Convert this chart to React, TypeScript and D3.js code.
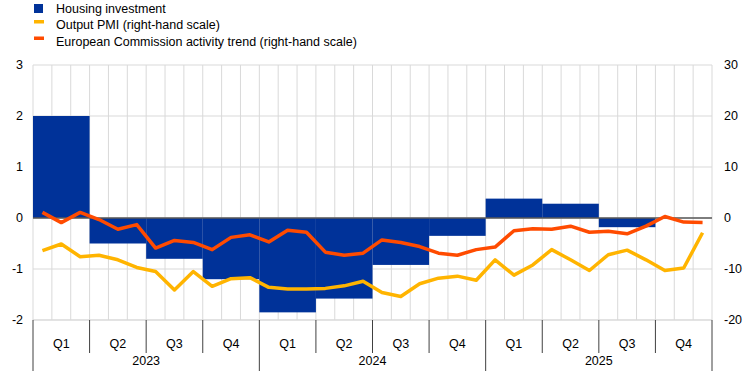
import * as d3 from "d3";

const quarterLabels = ["Q1", "Q2", "Q3", "Q4", "Q1", "Q2", "Q3", "Q4", "Q1", "Q2", "Q3", "Q4"];
const years = ["2023", "2024", "2025"];
const leftTicks = [-2, -1, 0, 1, 2, 3];
const rightTicks = [-20, -10, 0, 10, 20, 30];

// quarterly, left-hand scale (last quarter not yet available)
const housingInvestment: (number | null)[] = [2.0, -0.5, -0.8, -1.2, -1.85, -1.58, -0.92, -0.35, 0.38, 0.28, -0.18, null];

// monthly, right-hand scale, Jan 2023 - Dec 2025
const outputPmi = [
  -6.4, -5.1, -7.6, -7.3, -8.2, -9.7, -10.5, -14.1, -10.5, -13.4, -11.9, -11.7,
  -13.6, -13.9, -13.9, -13.8, -13.3, -12.4, -14.6, -15.4, -12.9, -11.8, -11.4, -12.2,
  -8.2, -11.2, -9.2, -6.2, -8.2, -10.3, -7.2, -6.3, -8.2, -10.3, -9.8, -2.9,
];
const ecActivity = [
  1.1, -0.9, 1.1, -0.3, -2.2, -1.3, -5.9, -4.4, -4.8, -6.2, -3.8, -3.3,
  -4.7, -2.4, -2.8, -6.7, -7.3, -6.9, -4.3, -4.8, -5.6, -6.9, -7.3, -6.2,
  -5.7, -2.5, -2.1, -2.2, -1.6, -2.8, -2.6, -3.1, -1.6, 0.3, -0.8, -0.9,
];

const legendItems = [
  { label: "Housing investment", color: "#003299", kind: "box" },
  { label: "Output PMI (right-hand scale)", color: "#FFB400", kind: "line" },
  { label: "European Commission activity trend (right-hand scale)", color: "#FF4B00", kind: "line" },
];

const W = 744;
const H = 371;
const M = { top: 65, right: 32, bottom: 51, left: 33 };
const FONT = "'Liberation Sans', Arial, sans-serif";

export default function App() {
  const x = d3.scaleLinear().domain([0, 36]).range([M.left, W - M.right]);
  const yL = d3.scaleLinear().domain([-2, 3]).range([H - M.bottom, M.top]);
  const yR = d3.scaleLinear().domain([-20, 30]).range([H - M.bottom, M.top]);
  const bottom = H - M.bottom;

  const lineGen = d3
    .line<number>()
    .x((_, i) => x(i + 0.5))
    .y((d) => yR(d));

  const months = d3.range(37);

  return (
    <div style={{ position: "absolute", left: 0, top: 0 }}>
      <svg width={W} height={H} style={{ display: "block", fontFamily: FONT }}>
        <rect width={W} height={H} fill="#fff" />

        {/* grid */}
        {months.map((m) => (
          <line key={"v" + m} x1={x(m)} x2={x(m)} y1={M.top} y2={bottom} stroke="#d9d9d9" strokeWidth={1} />
        ))}
        {leftTicks.map((t) => (
          <line key={"h" + t} x1={M.left} x2={W - M.right} y1={yL(t)} y2={yL(t)} stroke="#d9d9d9" strokeWidth={1} />
        ))}

        {/* bars */}
        {housingInvestment.map((v, i) =>
          v === null ? null : (
            <rect
              key={"b" + i}
              x={x(i * 3)}
              width={x(i * 3 + 3) - x(i * 3)}
              y={Math.min(yL(v), yL(0))}
              height={Math.abs(yL(v) - yL(0))}
              fill="#003299"
            />
          )
        )}

        {/* zero line */}
        <line x1={M.left} x2={W - M.right} y1={yL(0)} y2={yL(0)} stroke="#595959" strokeWidth={1.5} />

        {/* lines */}
        <path d={lineGen(outputPmi) ?? ""} fill="none" stroke="#FFB400" strokeWidth={3.5} strokeLinejoin="round" />
        <path d={lineGen(ecActivity) ?? ""} fill="none" stroke="#FF4B00" strokeWidth={3.5} strokeLinejoin="round" />

        {/* left axis labels */}
        {leftTicks.map((t) => (
          <text key={"l" + t} x={23} y={yL(t)} dy="0.35em" textAnchor="end" fontSize={12.5} fill="#000">
            {t}
          </text>
        ))}
        {/* right axis labels */}
        {rightTicks.map((t) => (
          <text key={"r" + t} x={724} y={yR(t)} dy="0.35em" textAnchor="start" fontSize={12.5} fill="#000">
            {t}
          </text>
        ))}

        {/* x axis */}
        <line x1={M.left} x2={W - M.right} y1={bottom} y2={bottom} stroke="#d9d9d9" />
        {d3.range(13).map((q) => (
          <line
            key={"qt" + q}
            x1={x(q * 3)}
            x2={x(q * 3)}
            y1={bottom}
            y2={q % 4 === 0 ? H : bottom + 33}
            stroke="#404040"
            strokeWidth={1}
          />
        ))}
        {quarterLabels.map((q, i) => (
          <text key={"q" + i} x={x(i * 3 + 1.5)} y={bottom + 24} dy="0.35em" textAnchor="middle" fontSize={12.5}>
            {q}
          </text>
        ))}
        {years.map((yr, i) => (
          <text key={"y" + yr} x={x(i * 12 + 6)} y={bottom + 41} dy="0.35em" textAnchor="middle" fontSize={12.5}>
            {yr}
          </text>
        ))}

        {/* legend */}
        {legendItems.map((it, i) => {
          const cy = 8.5 + i * 16.5;
          return (
            <g key={it.label}>
              {it.kind === "box" ? (
                <rect x={34} y={cy - 4.5} width={9} height={9} fill={it.color} />
              ) : (
                <rect x={34} y={cy - 5} width={10} height={3.5} fill={it.color} />
              )}
              <text x={56} y={cy} dy="0.35em" fontSize={12.5}>
                {it.label}
              </text>
            </g>
          );
        })}
      </svg>
    </div>
  );
}
